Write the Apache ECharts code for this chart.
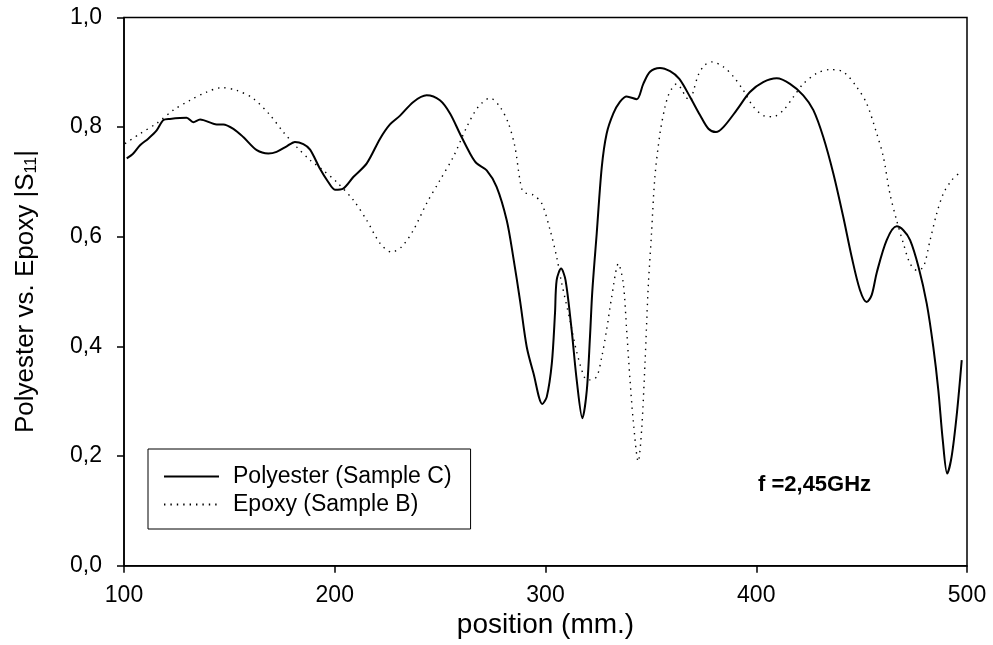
<!DOCTYPE html>
<html>
<head>
<meta charset="utf-8">
<script src="https://cdn.jsdelivr.net/npm/echarts@6/dist/echarts.min.js"></script>
<style>
html,body{margin:0;padding:0;background:#fff;}
#chart{width:993px;height:645px;}
</style>
</head>
<body>
<div id="chart"></div>
<script>
const polyesterPos = [101.3,104.4,107.6,111.5,115.5,118.7,121.8,129.7,132.9,136.1,144,147.1,151.9,156.6,163,168.5,172.4,177.2,181.1,185.1,188.3,193,196.9,200.1,204,208.8,215.2,221.5,226.2,231,237.3,243.6,249.9,254.7,259.4,264.2,267.3,272.1,276.8,281.6,284.7,287.9,291.1,294.3,298.5,300.6,303,304.5,305.3,307.4,309.5,312.4,314.8,317.5,319.6,321.1,322.2,324.3,326.7,329,332.2,335.3,338.5,343.3,346.4,349.6,354.3,359.1,363.5,368.6,373.3,377.3,380.9,384.4,390.7,397,403.3,409.7,416,422.3,427.1,431.8,436.6,441.3,445.3,449.2,452.4,454.8,457.2,461.9,466.6,469.8,473,477,480.9,484,486.4,488.5,490.6,492.7,495.2,497.5];
const polyesterVal = [0.743,0.752,0.767,0.779,0.794,0.813,0.815,0.817,0.809,0.814,0.805,0.805,0.797,0.782,0.758,0.752,0.755,0.765,0.773,0.769,0.759,0.724,0.700,0.686,0.688,0.709,0.734,0.779,0.805,0.821,0.846,0.858,0.849,0.825,0.788,0.752,0.734,0.721,0.691,0.630,0.563,0.484,0.399,0.351,0.295,0.308,0.369,0.460,0.521,0.542,0.521,0.430,0.339,0.269,0.320,0.417,0.500,0.606,0.727,0.788,0.825,0.846,0.856,0.851,0.879,0.901,0.908,0.902,0.888,0.855,0.822,0.797,0.791,0.800,0.831,0.864,0.882,0.889,0.879,0.858,0.831,0.782,0.715,0.636,0.563,0.503,0.481,0.494,0.535,0.594,0.619,0.612,0.594,0.545,0.478,0.399,0.320,0.229,0.168,0.199,0.278,0.375];

const epoxyPos = [100.5,107.6,115.5,123.4,131.3,139.2,146.4,153.5,161.4,169.3,175.6,181.9,188.3,194.6,200.9,208.8,215.2,221.5,227,231.8,237.3,243.6,249.9,256.3,262.6,268.1,273.7,278.4,282.4,285.5,287.9,289.5,294.3,298.2,302.2,305.3,307.7,311.6,314.8,318.7,321.1,324.3,326.7,329,331.4,334.6,336.9,338.5,340.1,341.6,344,345.6,347.2,348.7,350.3,351.9,354.3,356.7,358.3,359.9,362.2,364.6,366.6,368.8,370.2,372.5,375.5,378.8,384.4,389.2,393.9,398.7,404.2,408.1,412.9,417.6,422.3,428.7,435,441.3,447.7,452.4,457.2,460.3,463.4,466.6,469.8,473,476.1,479.3,482.5,485.6,488.8,492.7,495.9];
const epoxyVal = [0.770,0.788,0.807,0.831,0.849,0.864,0.872,0.867,0.852,0.822,0.791,0.764,0.740,0.721,0.700,0.667,0.630,0.588,0.572,0.582,0.612,0.661,0.703,0.746,0.800,0.837,0.853,0.837,0.807,0.764,0.703,0.682,0.676,0.661,0.612,0.563,0.515,0.448,0.390,0.342,0.339,0.345,0.381,0.430,0.490,0.551,0.515,0.430,0.339,0.266,0.190,0.247,0.369,0.505,0.606,0.709,0.788,0.837,0.858,0.870,0.879,0.869,0.855,0.848,0.866,0.895,0.913,0.919,0.910,0.892,0.867,0.837,0.820,0.819,0.831,0.855,0.879,0.898,0.905,0.901,0.873,0.843,0.788,0.746,0.679,0.630,0.588,0.551,0.539,0.545,0.594,0.642,0.679,0.703,0.715];

const seriesNames = ['Polyester (Sample C)', 'Epoxy (Sample B)'];
const xTicks = [100, 200, 300, 400, 500];
const yTickLabels = ['0,0','0,2','0,4','0,6','0,8','1,0'];
const annotation = 'f =2,45GHz';

const FONT = '"Liberation Sans", Arial, Helvetica, sans-serif';
const pair = (xs, ys) => xs.map((x, i) => [x, ys[i]]);

const chart = echarts.init(document.getElementById('chart'), null, {renderer: 'canvas'});
chart.setOption({
  animation: false,
  backgroundColor: '#fff',
  textStyle: {fontFamily: FONT, color: '#000'},
  grid: {left: 124, right: 26, top: 17.5, bottom: 79.3, show: true, borderColor: '#000', borderWidth: 1.5, containLabel: false},
  title: {
    text: annotation, left: 753, top: 469,
    textStyle: {fontFamily: FONT, fontSize: 22, fontWeight: 'bold', color: '#000'}
  },
  legend: {
    left: 148, top: 449, orient: 'vertical',
    borderColor: '#000', borderWidth: 1, borderRadius: 0,
    padding: [16, 19, 13, 15], itemGap: 5,
    itemWidth: 55, itemHeight: 23,
    itemStyle: {opacity: 0, borderWidth: 0},
    textStyle: {fontFamily: FONT, fontSize: 23, color: '#000', padding: [0, 0, 0, 9]},
    data: seriesNames
  },
  xAxis: {
    type: 'value', min: xTicks[0], max: xTicks[xTicks.length - 1], interval: 100,
    name: 'position (mm.)', nameLocation: 'middle', nameGap: 43,
    nameTextStyle: {fontFamily: FONT, fontSize: 28, color: '#000'},
    axisLine: {show: true, onZero: false, lineStyle: {color: '#000', width: 1.5}},
    axisTick: {show: true, inside: false, length: 7, lineStyle: {color: '#000', width: 1.5}},
    axisLabel: {fontFamily: FONT, fontSize: 23, color: '#000', margin: 18},
    splitLine: {show: false}
  },
  yAxis: {
    type: 'value', min: 0, max: 1, interval: 0.2,
    name: 'Polyester vs. Epoxy |S{sub|11}|', nameLocation: 'middle', nameGap: 84,
    nameTextStyle: {
      fontFamily: FONT, fontSize: 26, color: '#000',
      rich: {sub: {fontFamily: FONT, fontSize: 16, color: '#000', verticalAlign: 'bottom', padding: [12, 0, 0, 0]}}
    },
    axisLine: {show: true, lineStyle: {color: '#000', width: 1.5}},
    axisTick: {show: true, inside: false, length: 7, lineStyle: {color: '#000', width: 1.5}},
    axisLabel: {
      fontFamily: FONT, fontSize: 23, color: '#000', margin: 22,
      formatter: v => yTickLabels[Math.round(v / 0.2)]
    },
    splitLine: {show: false}
  },
  series: [
    {
      name: seriesNames[0], type: 'line', data: pair(polyesterPos, polyesterVal),
      showSymbol: false, symbol: 'none', smooth: 0.3,
      lineStyle: {color: '#000', width: 2, type: 'solid'},
      itemStyle: {color: '#000'}
    },
    {
      name: seriesNames[1], type: 'line', data: pair(epoxyPos, epoxyVal),
      showSymbol: false, symbol: 'none', smooth: 0.3,
      lineStyle: {color: '#000', width: 1.4, type: [1.4, 5]},
      itemStyle: {color: '#000'}
    }
  ]
});
</script>
</body>
</html>
